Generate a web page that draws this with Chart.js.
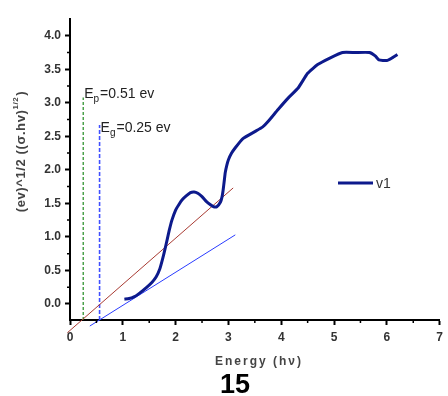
<!DOCTYPE html>
<html>
<head>
<meta charset="utf-8">
<script src="https://cdn.jsdelivr.net/npm/chart.js@4/dist/chart.umd.min.js"></script>
<style>
  html, body { margin: 0; padding: 0; background: #fff; }
</style>
</head>
<body>
<canvas id="chart" width="448" height="396"></canvas>
<script>
// v1 curve
const energy = [1.03, 1.12, 1.2, 1.3, 1.44, 1.55, 1.63, 1.7, 1.75, 1.8, 1.84, 1.88, 1.93, 2.0, 2.06, 2.12, 2.2, 2.28,
  2.35, 2.42, 2.5, 2.58, 2.66, 2.72, 2.78, 2.85, 2.88, 2.9, 2.92, 2.94, 2.97, 3.0, 3.06, 3.13, 3.28, 3.5, 3.65, 3.75,
  3.94, 4.13, 4.32, 4.5, 4.69, 4.93, 5.16, 5.4, 5.67, 5.78, 5.85, 6.0, 6.1, 6.2];
const v1 = [0.07, 0.08, 0.1, 0.15, 0.24, 0.32, 0.4, 0.52, 0.66, 0.82, 0.96, 1.1, 1.25, 1.4, 1.48, 1.55, 1.61, 1.66,
  1.67, 1.65, 1.6, 1.53, 1.48, 1.45, 1.45, 1.52, 1.6, 1.7, 1.83, 1.96, 2.07, 2.15, 2.25, 2.33, 2.47, 2.57, 2.64, 2.72,
  2.9, 3.07, 3.22, 3.44, 3.57, 3.67, 3.75, 3.75, 3.75, 3.7, 3.64, 3.63, 3.67, 3.72];

// fit lines (end points)
const redFitX = [-0.05, 3.09];
const redFitY = [-0.43, 1.73];
const blueFitX = [0.375, 3.13];
const blueFitY = [-0.33, 1.03];

// marker lines
const epX = [0.25, 0.25];
const epY = [-0.24, 3.08];
const egX = [0.56, 0.56];
const egY = [-0.24, 2.67];

const xTicks = [0, 1, 2, 3, 4, 5, 6, 7];
const yTicks = [0, 0.5, 1, 1.5, 2, 2.5, 3, 3.5, 4];

const pts = (xs, ys) => xs.map((x, i) => ({ x: x, y: ys[i] }));

const font = "'Liberation Sans', Arial, sans-serif";

const extras = {
  id: "extras",
  afterDraw(chart) {
    const ctx = chart.ctx;
    const xs = chart.scales.x, ys = chart.scales.y;
    ctx.save();

    // minor ticks
    ctx.strokeStyle = "#000";
    ctx.lineWidth = 1.5;
    ctx.beginPath();
    for (let v = 0.5; v < 7; v += 1) {
      const px = xs.getPixelForValue(v);
      ctx.moveTo(px, ys.bottom);
      ctx.lineTo(px, ys.bottom + 3);
    }
    for (let v = -0.25; v < 4.25; v += 0.5) {
      if (v < ys.min) continue;
      const py = ys.getPixelForValue(v);
      ctx.moveTo(xs.left, py);
      ctx.lineTo(xs.left - 3, py);
    }
    ctx.stroke();

    // E labels
    ctx.fillStyle = "#222";
    ctx.textBaseline = "alphabetic";
    const label = (x, y, sub, rest) => {
      ctx.font = "14px " + font;
      ctx.fillText("E", x, y);
      let w = ctx.measureText("E").width;
      ctx.font = "10px " + font;
      ctx.fillText(sub, x + w, y + 4);
      w += ctx.measureText(sub).width + 1;
      ctx.font = "14px " + font;
      ctx.fillText(rest, x + w, y);
    };
    label(xs.getPixelForValue(epX[1]) + 1, ys.getPixelForValue(epY[1]) + 1, "p", "=0.51 ev");
    label(xs.getPixelForValue(egX[1]) + 1, ys.getPixelForValue(egY[1]) + 7, "g", "=0.25 ev");

    // legend
    ctx.strokeStyle = "#0d1a8c";
    ctx.lineWidth = 3;
    ctx.beginPath();
    ctx.moveTo(338, 183);
    ctx.lineTo(373, 183);
    ctx.stroke();
    ctx.fillStyle = "#333";
    ctx.font = "14px " + font;
    ctx.textBaseline = "middle";
    ctx.fillText("v1", 376, 184);

    // x title
    ctx.fillStyle = "#444";
    ctx.font = "bold 12px " + font;
    ctx.letterSpacing = "2px";
    ctx.textAlign = "left";
    ctx.fillText("Energy (h\u03bd)", 215, 362);
    ctx.letterSpacing = "0px";

    // page number
    ctx.fillStyle = "#000";
    ctx.font = "bold 27px " + font;
    ctx.textAlign = "center";
    ctx.textBaseline = "alphabetic";
    ctx.fillText("15", 235, 393);

    // y title
    ctx.translate(21, 152);
    ctx.rotate(-Math.PI / 2);
    ctx.fillStyle = "#444";
    ctx.textAlign = "left";
    ctx.textBaseline = "middle";
    ctx.letterSpacing = "0.6px";
    const big = "bold 13px " + font, small = "bold 8px " + font;
    ctx.font = big;
    const a = "(ev)^1/2 ((\u03c3.hv)";
    const wa = ctx.measureText(a).width;
    ctx.font = small;
    const wb = ctx.measureText("1/2").width;
    ctx.font = big;
    const wc = ctx.measureText(")").width;
    let x0 = -(wa + wb + wc) / 2;
    ctx.fillText(a, x0, 0);
    ctx.font = small;
    ctx.fillText("1/2", x0 + wa, -5);
    ctx.font = big;
    ctx.fillText(")", x0 + wa + wb + 1, 0);
    ctx.restore();
  }
};

new Chart(document.getElementById("chart"), {
  type: "scatter",
  data: {
    datasets: [
      { label: "v1", data: pts(energy, v1), showLine: true, borderColor: "#0d1a8c", borderWidth: 3, pointRadius: 0, tension: 0.15 },
      { data: pts(redFitX, redFitY), showLine: true, borderColor: "#a83a32", borderWidth: 1, pointRadius: 0, clip: false },
      { data: pts(blueFitX, blueFitY), showLine: true, borderColor: "#2a3cff", borderWidth: 1, pointRadius: 0, clip: false },
      { data: pts(epX, epY), showLine: true, borderColor: "#1f8a1f", borderWidth: 1.2, borderDash: [3, 2], pointRadius: 0 },
      { data: pts(egX, egY), showLine: true, borderColor: "#4050ff", borderWidth: 1.6, borderDash: [4, 2], pointRadius: 0 }
    ]
  },
  options: {
    responsive: false,
    animation: false,
    layout: { padding: { top: 19, right: 5, left: 0, bottom: 0 } },
    plugins: { legend: { display: false }, tooltip: { enabled: false } },
    scales: {
      x: {
        type: "linear",
        min: 0,
        max: 7,
        afterBuildTicks: s => { s.ticks = xTicks.map(v => ({ value: v })); },
        afterFit: s => { s.height = 76; },
        border: { color: "#000", width: 2 },
        grid: { drawOnChartArea: false, tickLength: 5, tickColor: "#000", tickWidth: 2 },
        ticks: { color: "#333", padding: 5, font: { family: font, size: 12, weight: "bold" } }
      },
      y: {
        min: -0.24,
        max: 4.25,
        afterBuildTicks: s => { s.ticks = yTicks.map(v => ({ value: v })); },
        afterFit: s => { s.width = 70; },
        border: { color: "#000", width: 2 },
        grid: { drawOnChartArea: false, tickLength: 5, tickColor: "#000", tickWidth: 2 },
        ticks: { color: "#333", padding: 4, font: { family: font, size: 12, weight: "bold" },
          callback: v => v.toFixed(1) }
      }
    }
  },
  plugins: [extras]
});
</script>
</body>
</html>
